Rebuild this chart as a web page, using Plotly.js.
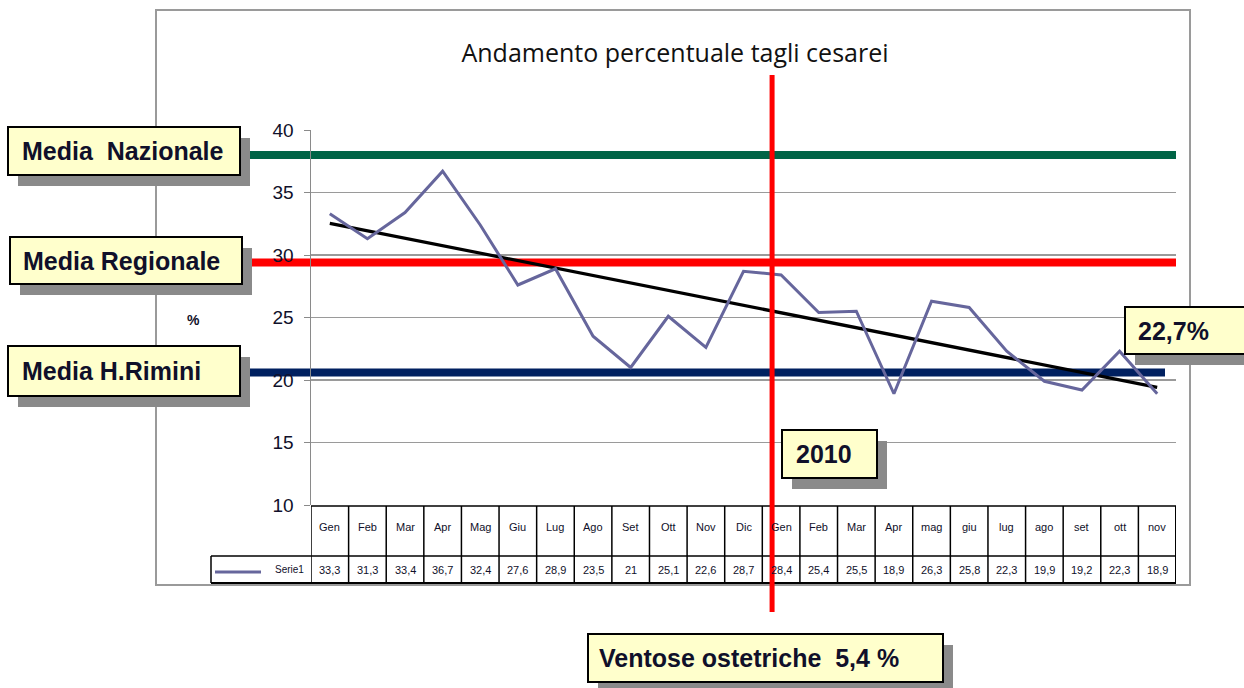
<!DOCTYPE html>
<html>
<head>
<meta charset="utf-8">
<script src="https://cdn.plot.ly/plotly-3.0.1.min.js"></script>
<style>html,body{margin:0;padding:0;background:#fff;}#chart{width:1244px;height:688px;}</style>
</head>
<body>
<div id="chart"></div>
<script>
// ---- data ----
const months = ["Gen","Feb","Mar","Apr","Mag","Giu","Lug","Ago","Set","Ott","Nov","Dic",
                "Gen","Feb","Mar","Apr","mag","giu","lug","ago","set","ott","nov"];
const values = [33.3,31.3,33.4,36.7,32.4,27.6,28.9,23.5,21,25.1,22.6,28.7,
                28.4,25.4,25.5,18.9,26.3,25.8,22.3,19.9,19.2,22.3,18.9];
const seriesName = "Serie1";
const meanNames = ["Media  Nazionale","Media Regionale","Media H.Rimini"];
const meanValues = [38, 29.4, 20.6];
const meanColors = ["#006446","#ff0000","#002060"];
const yearMarkX = 11.76;
const yearLabel = "2010";
const lastLabel = "22,7%";
const footLabel = "Ventose ostetriche  5,4 %";
const chartTitle = "Andamento percentuale tagli cesarei";

// ---- geometry helpers (pixel -> paper) ----
const L=311, R=1176, T=130, B=505, W=1244, H=688;
const PX = x => (x-L)/(R-L);
const PY = y => (B-y)/(B-T);

const xs = values.map((v,i)=>i);
// linear trend (least squares)
const n = values.length;
const mx = xs.reduce((a,b)=>a+b,0)/n, my = values.reduce((a,b)=>a+b,0)/n;
let sxy=0,sxx=0; xs.forEach((x,i)=>{sxy+=(x-mx)*(values[i]-my); sxx+=(x-mx)*(x-mx);});
const slope=sxy/sxx, icpt=my-slope*mx;
const trendX=[0,n-1], trendY=trendX.map(x=>icpt+slope*x);

const seriesColor = "#66669c";
const textColor = "#10102a";
const FONT = "Liberation Sans, Arial, sans-serif";

const traces = [
  {x:trendX, y:trendY, mode:"lines", line:{color:"#000", width:3.2}, hoverinfo:"skip", showlegend:false},
  {x:xs, y:values, mode:"lines", line:{color:seriesColor, width:3}, name:seriesName, showlegend:false}
];

const shapes = [];
const annotations = [];

// outer chart border
shapes.push({type:"rect", xref:"paper", yref:"paper", x0:PX(156), x1:PX(1190), y0:PY(10), y1:PY(585),
  line:{color:"#9a9a9a", width:2}, layer:"below"});

// mean lines
meanValues.forEach((v,i)=>{
  shapes.push({type:"line", xref:"paper", yref:"y", x0:PX(250), x1:(i===2?PX(1165):PX(1176)), y0:v, y1:v,
    line:{color:meanColors[i], width:8}, layer:"below"});
});

// data table
const rowTop = PY(506), rowMid = PY(556), rowBot = PY(583);
const tLine = {color:"#000", width:1.5};
shapes.push({type:"line", xref:"x", yref:"paper", x0:-0.5, x1:n-0.5, y0:rowTop, y1:rowTop, line:tLine});
shapes.push({type:"line", xref:"paper", yref:"paper", x0:PX(211), x1:1, y0:rowMid, y1:rowMid, line:tLine});
shapes.push({type:"line", xref:"paper", yref:"paper", x0:PX(211), x1:1, y0:rowBot, y1:rowBot, line:{color:"#000", width:2}});
shapes.push({type:"line", xref:"paper", yref:"paper", x0:PX(211), x1:PX(211), y0:rowMid, y1:rowBot, line:tLine});
for(let i=0;i<=n;i++){
  shapes.push({type:"line", xref:"x", yref:"paper", x0:i-0.5, x1:i-0.5, y0:rowTop, y1:rowBot,
    line:{color:"#000", width:(i===n?2:1.5)}});
}
// legend key in table
shapes.push({type:"line", xref:"paper", yref:"paper", x0:PX(215), x1:PX(261), y0:PY(572), y1:PY(572),
  line:{color:seriesColor, width:3}});
annotations.push({xref:"paper", yref:"paper", x:PX(306), y:(rowMid+rowBot)/2, text:seriesName, showarrow:false,
  xanchor:"right", yanchor:"middle", font:{size:10, color:textColor, family:FONT}});
months.forEach((m,i)=>{
  annotations.push({xref:"x", yref:"paper", x:i, y:(rowTop+rowMid)/2+0.01, text:m, showarrow:false,
    xanchor:"center", yanchor:"middle", font:{size:11, color:textColor, family:FONT}});
  annotations.push({xref:"x", yref:"paper", x:i, y:(rowMid+rowBot)/2, text:String(values[i]).replace(".",","), showarrow:false,
    xanchor:"center", yanchor:"middle", font:{size:11, color:textColor, family:FONT}});
});

// year vertical line
shapes.push({type:"line", xref:"x", yref:"paper", x0:yearMarkX, x1:yearMarkX, y0:PY(75), y1:PY(612),
  line:{color:"#ff0000", width:5}, layer:"above"});

// callout boxes with shadows
function box(x0,y0,x1,y1,text,size,tx){
  shapes.push({type:"rect", xref:"paper", yref:"paper", x0:PX(x0+10), x1:PX(x1+10), y0:PY(y0+11), y1:PY(y1+11),
    fillcolor:"#8a8a8a", line:{width:0}, layer:"above"});
  shapes.push({type:"rect", xref:"paper", yref:"paper", x0:PX(x0), x1:PX(x1), y0:PY(y0), y1:PY(y1),
    fillcolor:"#ffffcc", line:{color:"#000", width:2}, layer:"above"});
  annotations.push({xref:"paper", yref:"paper", x:PX(tx), y:PY((y0+y1)/2), text:"<b>"+text+"</b>", showarrow:false,
    xanchor:"left", yanchor:"middle", font:{size:size, color:textColor, family:FONT}});
}
box(8,127,240,175,meanNames[0],25,20);
box(10,237,242,284,meanNames[1],25,21);
box(8,346,240,396,meanNames[2],25,20);
box(1125,307,1260,354,lastLabel,25,1136);
box(782,430,877,478,yearLabel,25,794);
box(588,634,943,682,footLabel,25,597);

// percent label
annotations.push({xref:"paper", yref:"paper", x:PX(193), y:PY(320), text:"<b>%</b>", showarrow:false,
  xanchor:"center", yanchor:"middle", font:{size:14, color:textColor, family:FONT}});

const layout = {
  width:W, height:H,
  margin:{l:L, r:W-R, t:T, b:H-B, pad:0},
  paper_bgcolor:"#fff", plot_bgcolor:"rgba(0,0,0,0)",
  showlegend:false,
  title:{text:chartTitle, x:PX(675), xref:"paper", xanchor:"center", y:1-53/H, yref:"container", yanchor:"middle",
    font:{size:25, color:"#111", family:"Open Sans, sans-serif"}},
  xaxis:{range:[-0.5,n-0.5], showgrid:false, zeroline:false, showline:false, showticklabels:false, ticks:""},
  yaxis:{range:[10,40], dtick:5, tick0:10, showgrid:true, gridcolor:"#9a9a9a", gridwidth:1.5, zeroline:false,
    showline:true, linecolor:"#8a8a8a", linewidth:1.5, ticks:"outside", ticklen:6, tickcolor:"#8a8a8a",
    ticklabelstandoff:6,
    tickfont:{size:19, color:textColor, family:FONT}},
  shapes:shapes, annotations:annotations
};
Plotly.newPlot("chart", traces, layout, {staticPlot:true, displayModeBar:false});
</script>
</body>
</html>
